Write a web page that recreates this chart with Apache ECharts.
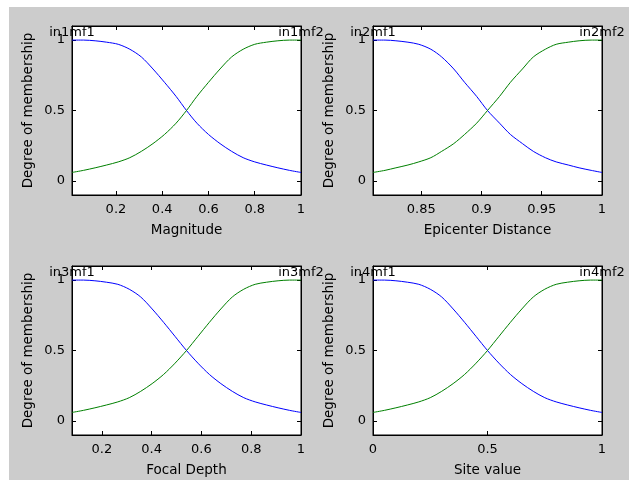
<!DOCTYPE html>
<html>
<head>
    <meta charset="utf-8">
    <title>Membership functions</title>
    <script src="https://cdn.jsdelivr.net/npm/echarts@6.0.0/dist/echarts.min.js"></script>
    <style>
        body {
            margin: 0;
            background: #ffffff;
        }

        #wrap {
            position: relative;
            width: 629px;
            height: 480px;
            background: #ffffff;
        }

        #main {
            position: absolute;
            left: 9px;
            top: 7px;
            width: 620px;
            height: 473px;
        }
    </style>
</head>
<body>
<div id="wrap">
    <div id="main"></div>
</div>
<script>
    // membership values (same shape in every panel)
    var mf1Values = [1.00, 1.00, 0.995, 0.985, 0.97, 0.935, 0.88, 0.795, 0.70, 0.60, 0.50,
        0.41, 0.33, 0.265, 0.21, 0.165, 0.135, 0.113, 0.093, 0.075, 0.06];
    var mf2Values = [0.06, 0.075, 0.093, 0.113, 0.135, 0.165, 0.21, 0.265, 0.33, 0.41, 0.50,
        0.60, 0.70, 0.795, 0.88, 0.935, 0.97, 0.985, 0.995, 1.00, 1.00];

    // x positions of the points for each input
    var xMagnitude = [0.01, 0.06, 0.11, 0.16, 0.21, 0.26, 0.31, 0.36, 0.41, 0.46, 0.505,
        0.55, 0.60, 0.65, 0.70, 0.75, 0.80, 0.85, 0.90, 0.95, 1.00];
    var xEpicenter = [0.81, 0.82, 0.829, 0.839, 0.848, 0.858, 0.867, 0.877, 0.886, 0.896, 0.905,
        0.915, 0.924, 0.934, 0.943, 0.953, 0.962, 0.972, 0.981, 0.991, 1.00];
    var xFocal = [0.08, 0.126, 0.172, 0.218, 0.264, 0.31, 0.356, 0.402, 0.448, 0.494, 0.54,
        0.586, 0.632, 0.678, 0.724, 0.77, 0.816, 0.862, 0.908, 0.954, 1.00];
    var xSite = [0, 0.05, 0.10, 0.15, 0.20, 0.25, 0.30, 0.35, 0.40, 0.45, 0.50,
        0.55, 0.60, 0.65, 0.70, 0.75, 0.80, 0.85, 0.90, 0.95, 1.00];

    var xNames = ['Magnitude', 'Epicenter Distance', 'Focal Depth', 'Site value'];
    var xMins = [0.01, 0.81, 0.08, 0];
    var xMaxs = [1, 1, 1, 1];
    var xTicks1 = [0.2, 0.4, 0.6, 0.8, 1];
    var xTicks2 = [0.85, 0.9, 0.95, 1];
    var xTicks3 = [0.2, 0.4, 0.6, 0.8, 1];
    var xTicks4 = [0, 0.5, 1];
    var yTicks = [0, 0.5, 1];
    var mfLabels1 = ['in1mf1', 'in2mf1', 'in3mf1', 'in4mf1'];
    var mfLabels2 = ['in1mf2', 'in2mf2', 'in3mf2', 'in4mf2'];

    var xSets = [xMagnitude, xEpicenter, xFocal, xSite];
    var xTickSets = [xTicks1, xTicks2, xTicks3, xTicks4];

    var font = 'DejaVu Sans';
    var grids = [
        {left: 63, top: 19},
        {left: 364, top: 19},
        {left: 63, top: 259},
        {left: 364, top: 259}
    ];

    var option = {
        backgroundColor: '#cccccc',
        animation: false,
        grid: [],
        xAxis: [],
        yAxis: [],
        series: []
    };

    function pairs(xs, ys) {
        var out = [];
        for (var i = 0; i < xs.length; i++) {
            out.push([xs[i], ys[i]]);
        }
        return out;
    }

    function labelPoint(name, x) {
        return {
            symbol: 'rect',
            symbolSize: 1,
            itemStyle: {color: 'rgba(0,0,0,0)'},
            data: [{
                coord: [x, 1],
                label: {
                    show: true,
                    position: 'top',
                    distance: 0,
                    formatter: name,
                    color: '#000',
                    fontFamily: font,
                    fontSize: 13
                }
            }]
        };
    }

    for (var k = 0; k < 4; k++) {
        var xs = xSets[k];
        option.grid.push({
            left: grids[k].left,
            top: grids[k].top,
            width: 229,
            height: 169,
            show: true,
            backgroundColor: '#ffffff',
            borderColor: '#000000',
            borderWidth: 1
        });

        // bottom and top x axes (top one only carries ticks)
        option.xAxis.push({
            type: 'value',
            gridIndex: k,
            position: 'bottom',
            min: xMins[k],
            max: xMaxs[k],
            name: xNames[k],
            nameLocation: 'middle',
            nameGap: 28,
            nameTextStyle: {color: '#000', fontFamily: font, fontSize: 13.5},
            axisLine: {onZero: false, lineStyle: {color: '#000'}},
            axisTick: {inside: true, length: 4, customValues: xTickSets[k], lineStyle: {color: '#000'}},
            axisLabel: {customValues: xTickSets[k], color: '#000', fontFamily: font, fontSize: 13, margin: 8},
            splitLine: {show: false}
        });
        option.xAxis.push({
            type: 'value',
            gridIndex: k,
            position: 'top',
            min: xMins[k],
            max: xMaxs[k],
            axisLine: {onZero: false, lineStyle: {color: '#000'}},
            axisTick: {inside: true, length: 4, customValues: xTickSets[k], lineStyle: {color: '#000'}},
            axisLabel: {show: false},
            splitLine: {show: false}
        });

        option.yAxis.push({
            type: 'value',
            gridIndex: k,
            position: 'left',
            min: -0.1,
            max: 1.1,
            name: 'Degree of membership',
            nameLocation: 'middle',
            nameRotate: 90,
            nameGap: 37,
            nameTextStyle: {color: '#000', fontFamily: font, fontSize: 13.5},
            axisLine: {onZero: false, lineStyle: {color: '#000'}},
            axisTick: {inside: true, length: 4, customValues: yTicks, lineStyle: {color: '#000'}},
            axisLabel: {customValues: yTicks, color: '#000', fontFamily: font, fontSize: 13, margin: 7},
            splitLine: {show: false}
        });
        option.yAxis.push({
            type: 'value',
            gridIndex: k,
            position: 'right',
            min: -0.1,
            max: 1.1,
            axisLine: {onZero: false, lineStyle: {color: '#000'}},
            axisTick: {inside: true, length: 4, customValues: yTicks, lineStyle: {color: '#000'}},
            axisLabel: {show: false},
            splitLine: {show: false}
        });

        option.series.push({
            type: 'line',
            xAxisIndex: 2 * k,
            yAxisIndex: 2 * k,
            data: pairs(xs, mf1Values),
            showSymbol: false,
            smooth: 0.3,
            lineStyle: {color: '#0000ff', width: 1},
            markPoint: labelPoint(mfLabels1[k], xs[0])
        });
        option.series.push({
            type: 'line',
            xAxisIndex: 2 * k,
            yAxisIndex: 2 * k,
            data: pairs(xs, mf2Values),
            showSymbol: false,
            smooth: 0.3,
            lineStyle: {color: '#008000', width: 1},
            markPoint: labelPoint(mfLabels2[k], xs[xs.length - 1])
        });
    }

    var chart = echarts.init(document.getElementById('main'));
    chart.setOption(option);
</script>
</body>
</html>
